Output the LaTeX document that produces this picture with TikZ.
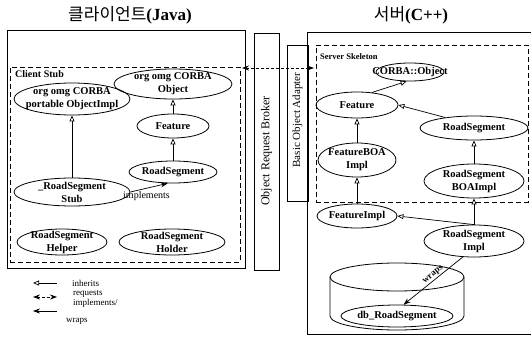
\documentclass[tikz,border=0pt]{standalone}
\usepackage{fontspec}
\setmainfont{Liberation Serif}
\newfontfamily\krfont{Noto Sans CJK KR}
\usetikzlibrary{arrows.meta,shapes.geometric}
\newcommand\myoval[5]{%
  \node[ovl, minimum width=#3, minimum height=#4] (#1) at (#2) {};
  \node[ovtext] at (#1) {#5};}
\begin{document}
\begin{tikzpicture}[x=1pt,y=-1pt,
  ovl/.style={draw, ellipse, inner sep=0pt, line width=0.8pt},
  ovtext/.style={inner sep=0pt, align=center, font=\fontsize{10.5}{13}\selectfont\bfseries},
  inh/.style={-{Triangle[open,length=6pt,width=5pt]}, line width=0.7pt},
  impl/.style={-{Stealth[length=7pt,width=5pt]}, line width=0.7pt},
  req/.style={{Stealth[length=7pt,width=5pt]}-{Stealth[length=7pt,width=5pt]}, dash pattern=on 3pt off 2pt, line width=0.8pt},
  box/.style={draw, line width=0.8pt, inner sep=0pt, anchor=north west},
  dbox/.style={box, dash pattern=on 5pt off 3pt},
  lgd/.style={font=\fontsize{9}{9}\selectfont, inner sep=0pt, anchor=west},
]
\useasboundingbox (0,0) rectangle (531,343);

% titles
\node[font=\fontsize{17}{17}\selectfont] (ctitle) at (130,15) {{\krfont 클라이언트}\textbf{(Java)}};
\node[font=\fontsize{17}{17}\selectfont] (stitle) at (411,15) {{\krfont 서버}\textbf{(C++)}};

% boxes
\node[box, minimum width=238pt, minimum height=238pt] (cbox) at (7,30) {};
\node[dbox, minimum width=230pt, minimum height=195pt] (cstubbox) at (10,67) {};
\node[box, minimum width=25pt, minimum height=237pt] (orb) at (254,33) {};
\node[rotate=90, font=\fontsize{12}{12}\selectfont] (orbtext) at (266.5,151) {Object Request Broker};
\node[box, minimum width=21pt, minimum height=156pt] (boa) at (287,45) {};
\node[rotate=90, font=\fontsize{11}{11}\selectfont] (boatext) at (297.5,120) {Basic Object Adapter};
\node[box, minimum width=240pt, minimum height=302pt] (sbox) at (307,32) {};
\node[dbox, minimum width=212pt, minimum height=157pt] (skelbox) at (316,45) {};

\node[font=\fontsize{10}{10}\selectfont\bfseries, anchor=west, inner sep=0pt] (cstublbl) at (15,74) {Client Stub};
\node[font=\fontsize{8.5}{8.5}\selectfont\bfseries, anchor=west, inner sep=0pt] (skellbl) at (320,57) {Server Skeleton};

% client nodes
\myoval{cobj}{173,84}{118pt}{30pt}{org omg CORBA\\Object}
\myoval{cpoi}{72,99}{116pt}{32pt}{org omg CORBA\\portable ObjectImpl}
\myoval{cfeat}{173,126}{72pt}{24pt}{Feature}
\myoval{crs}{173,172}{88pt}{22pt}{RoadSegment}
\myoval{cstub}{72,192}{116pt}{28pt}{\_RoadSegment\\Stub}
\myoval{chelp}{62,242}{90pt}{26pt}{RoadSegment\\Helper}
\myoval{chold}{172,242}{106pt}{26pt}{RoadSegment\\Holder}

\draw[inh] (cfeat) -- (cobj);
\draw[inh] (crs) -- (cfeat);
\draw[inh] (cstub) -- (cpoi);
\draw[impl] (cstub.east) -- (crs.245);
\node[font=\fontsize{10}{10}\selectfont, inner sep=0pt, anchor=north west] (implbl) at (123,191) {implements};

% server nodes
\myoval{sobj}{410,72}{68pt}{18pt}{CORBA::Object}
\myoval{sfeat}{357,105}{82pt}{26pt}{Feature}
\myoval{srs}{474,128}{108pt}{24pt}{RoadSegment}
\myoval{sfboa}{357,160}{78pt}{34pt}{FeatureBOA\\Impl}
\myoval{srsboa}{474,181}{100pt}{34pt}{RoadSegment\\BOAImpl}
\myoval{sfimpl}{357,216}{80pt}{24pt}{FeatureImpl}
\myoval{srsimpl}{474,241}{100pt}{32pt}{RoadSegment\\Impl}

% cylinder
\draw[line width=0.8pt] (330,277) -- (330,316) arc[start angle=180, end angle=360, x radius=67pt, y radius=14pt] -- (464,277);
\draw[line width=0.8pt] (397,277) ellipse [x radius=67pt, y radius=14pt];
\myoval{db}{397,316}{112pt}{22pt}{db\_RoadSegment}

\draw[inh] (sfeat.40) -- (sobj.250);
\draw[inh] (srs.160) -- (sfeat.east);
\draw[inh] (sfboa) -- (sfeat);
\draw[inh] (srsboa) -- (srs);
\draw[inh] (sfimpl) -- (sfboa);
\draw[inh] (srsimpl) -- (srsboa);
\draw[inh] (srsimpl.north) -- (sfimpl.east);
\draw[impl] (srsimpl.235) -- (db.60) node[pos=0.45, sloped, above, font=\fontsize{9}{9}\selectfont\bfseries, inner sep=1pt] {wraps};

% requests
\coordinate (reqL) at (242,68);
\coordinate (reqR) at (314,68);
\draw[req] (reqL) -- (reqR);

% legend
\coordinate (l1a) at (33,283); \coordinate (l1b) at (57,283);
\draw[inh] (l1b) -- (l1a);
\node[lgd] (lt1) at (72,283) {inherits};
\coordinate (l2a) at (33,297); \coordinate (l2b) at (57,297);
\draw[req] (l2a) -- (l2b);
\node[lgd] (lt2) at (73,294) {requests};
\node[lgd] (lt3) at (73,303) {implements/};
\coordinate (l3a) at (33,311); \coordinate (l3b) at (57,311);
\draw[impl] (l3b) -- (l3a);
\node[lgd] (lt4) at (66,321) {wraps};
\end{tikzpicture}
\end{document}
